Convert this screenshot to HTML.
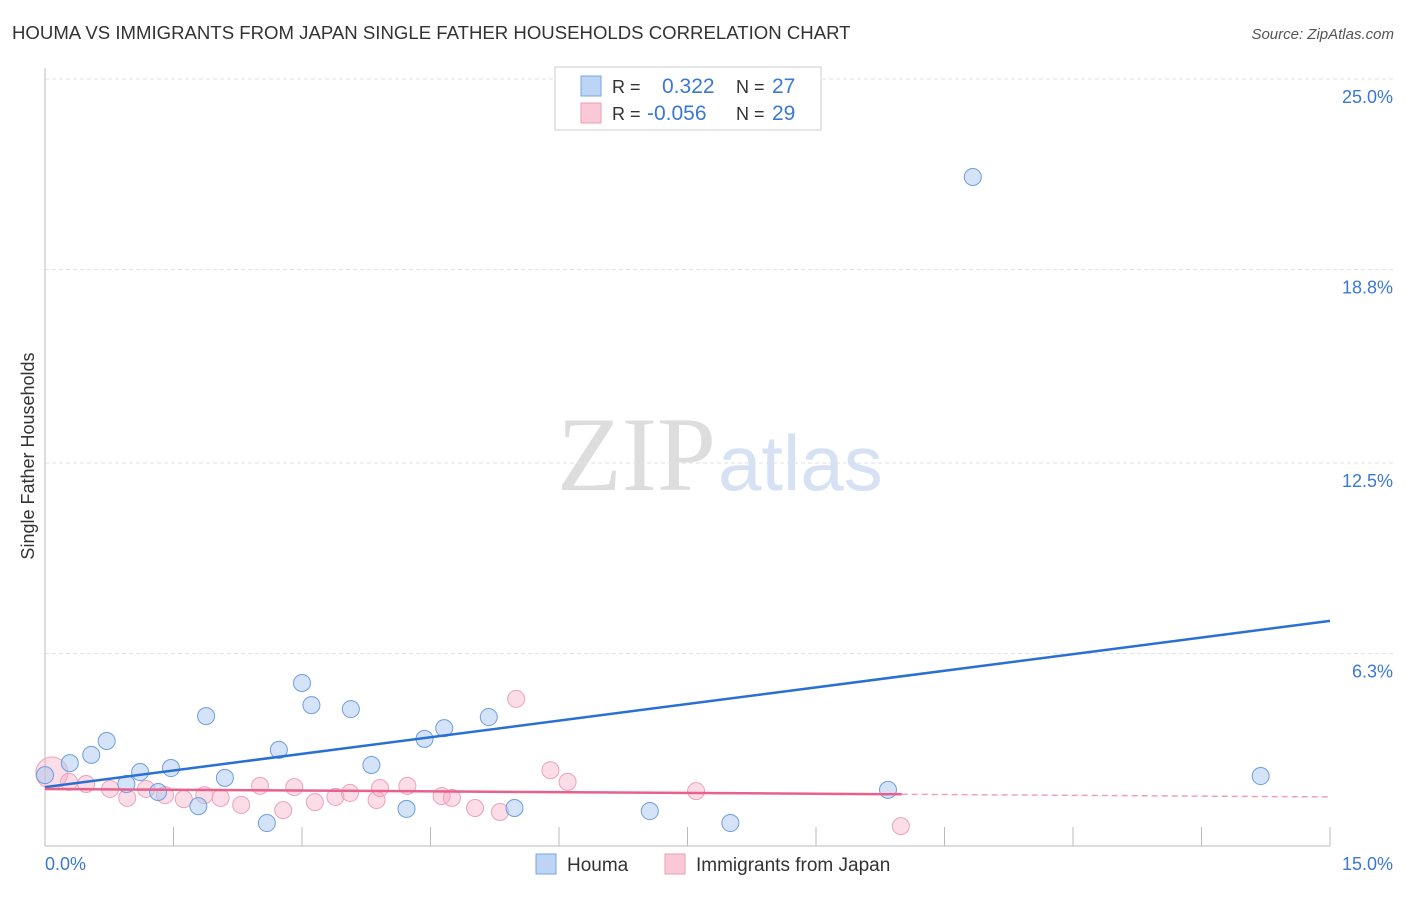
<!DOCTYPE html>
<html><head><meta charset="utf-8"><style>
body{margin:0;background:#fff;font-family:"Liberation Sans",sans-serif;}
</style></head><body>
<svg width="1406" height="892" xmlns="http://www.w3.org/2000/svg" font-family="Liberation Sans, sans-serif">
<text x="12" y="39" font-size="18.6" fill="#333">HOUMA VS IMMIGRANTS FROM JAPAN SINGLE FATHER HOUSEHOLDS CORRELATION CHART</text>
<text x="1394" y="39" font-size="15" fill="#555" font-style="italic" text-anchor="end">Source: ZipAtlas.com</text>
<text x="716" y="490" font-size="106" fill="#ddd" text-anchor="end" font-family="Liberation Serif, serif">ZIP</text>
<text x="718" y="490" font-size="78" fill="#d6e2f3">atlas</text>
<g id="grid"></g>
<g id="axes"></g>
<text transform="translate(34,456) rotate(-90)" font-size="18" fill="#333" text-anchor="middle">Single Father Households</text>
<g id="marks"></g>
<g>
<rect x="555" y="67" width="266" height="63" fill="#fff" stroke="#ccc"/>
<rect x="581" y="76" width="20" height="20" fill="#bcd4f5" stroke="#7aa6e0"/>
<rect x="581" y="103" width="20" height="20" fill="#f9c9d8" stroke="#ee9bb5"/>
<text x="612" y="93" font-size="18" fill="#333">R = </text><text x="662" y="93" font-size="21" fill="#3a78d4">0.322</text>
<text x="736" y="93" font-size="18" fill="#333">N = </text><text x="772" y="93" font-size="21" fill="#3a78d4">27</text>
<text x="612" y="120" font-size="18" fill="#333">R = </text><text x="647" y="120" font-size="21" fill="#3a78d4">-0.056</text>
<text x="736" y="120" font-size="18" fill="#333">N = </text><text x="772" y="120" font-size="21" fill="#3a78d4">29</text>
</g>
<g>
<rect x="536" y="854" width="20" height="20" fill="#bcd4f5" stroke="#7aa6e0"/>
<text x="567" y="871" font-size="19" fill="#333">Houma</text>
<rect x="665" y="854" width="20" height="20" fill="#f9c9d8" stroke="#ee9bb5"/>
<text x="696" y="871" font-size="19" fill="#333">Immigrants from Japan</text>
</g>
</svg>
<script>
const yTicks=[6.3,12.5,18.8,25.0];
const yTickLabels=["6.3%","12.5%","18.8%","25.0%"];
const houmaX=[0,0.29,0.54,0.72,0.95,1.11,1.32,1.47,1.79,1.88,2.10,2.59,2.73,3.0,3.11,3.57,3.81,4.22,4.43,4.66,5.18,5.48,7.06,8.0,9.84,10.83,14.19];
const houmaY=[2.34,2.73,3.0,3.45,2.05,2.44,1.79,2.57,1.33,4.26,2.25,0.78,3.16,5.34,4.62,4.49,2.67,1.24,3.52,3.87,4.23,1.27,1.17,0.78,1.86,21.81,2.31];
const japanX=[0.08,0.28,0.48,0.76,0.96,1.18,1.4,1.62,1.86,2.05,2.29,2.51,2.78,2.91,3.15,3.39,3.56,3.87,3.91,4.23,4.63,4.75,5.02,5.31,5.5,5.9,6.1,7.6,9.99];
const japanY=[2.41,2.12,2.05,1.89,1.6,1.89,1.69,1.56,1.69,1.6,1.37,1.99,1.2,1.95,1.46,1.63,1.76,1.53,1.92,1.99,1.66,1.6,1.27,1.14,4.82,2.5,2.12,1.82,0.68];
const houmaTrend=[1.95,7.36];
const japanTrend=[1.89,1.63];
const X=v=>45+v*85.67, Y=v=>847-v*30.72;
const NS="http://www.w3.org/2000/svg";
function mk(p,t,a){const e=document.createElementNS(NS,t);for(const k in a)e.setAttribute(k,a[k]);p.appendChild(e);return e;}
const grid=document.getElementById('grid'),axes=document.getElementById('axes'),marks=document.getElementById('marks');
yTicks.forEach((v,i)=>{
 const l=mk(grid,'line',{x1:45,x2:1395,y1:Y(v),y2:Y(v),stroke:'#e2e2e2','stroke-dasharray':'4,3'});
 
 
 const t=mk(axes,'text',{x:1393,y:Y(v)+24,'font-size':18,fill:'#3a78d4','text-anchor':'end'});t.textContent=yTickLabels[i];
 
 });
const ax=mk(axes,'line',{x1:45,x2:45,y1:68,y2:846,stroke:'#bbb'});


const bx=mk(axes,'line',{x1:45,x2:1330,y1:846,y2:846,stroke:'#bbb'});


for(let i=1;i<=10;i++){const t=mk(axes,'line',{x1:45+i*128.5,x2:45+i*128.5,y1:827,y2:846,stroke:'#bbb'});
 
 }
const x0=mk(axes,'text',{x:45,y:870,'font-size':18,fill:'#3a78d4'});x0.textContent='0.0%';


const x1=mk(axes,'text',{x:1393,y:870,'font-size':18,fill:'#3a78d4','text-anchor':'end'});x1.textContent='15.0%';


japanX.forEach((v,i)=>{const c=mk(marks,'circle',{cx:X(v),cy:Y(japanY[i]),r:i===0?16:8.5,fill:'rgba(246,170,195,0.4)',stroke:'#f0a0bb','stroke-width':1});
 
 });
houmaX.forEach((v,i)=>{const c=mk(marks,'circle',{cx:X(v),cy:Y(houmaY[i]),r:8.5,fill:'rgba(170,200,240,0.5)',stroke:'#6d9ee0','stroke-width':1});
 
 });
const hl=mk(marks,'line',{x1:X(0),y1:Y(houmaTrend[0]),x2:X(15),y2:Y(houmaTrend[1]),stroke:'#2a6fd6','stroke-width':2.5});


const jm=japanTrend[0]+(japanTrend[1]-japanTrend[0])*10/15;
const jl=mk(marks,'line',{x1:X(0),y1:Y(japanTrend[0]),x2:X(10),y2:Y(jm),stroke:'#e8608c','stroke-width':2.5});


const jd=mk(marks,'line',{x1:X(10),y1:Y(jm),x2:X(15),y2:Y(japanTrend[1]),stroke:'#f0a0bb','stroke-width':1.5,'stroke-dasharray':'6,4'});


</script>
</body></html>
